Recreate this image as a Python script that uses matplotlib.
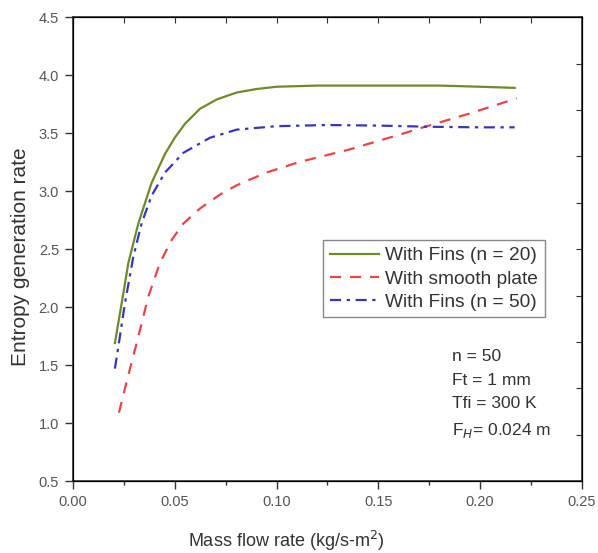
import matplotlib
matplotlib.use('Agg')
import matplotlib.pyplot as plt
from matplotlib.ticker import MultipleLocator

plt.rcParams['font.family'] = ['Liberation Sans', 'DejaVu Sans']

x_fin20 = [0.0206, 0.0239, 0.0272, 0.0321, 0.0386, 0.0452, 0.050, 0.055, 0.0624,
           0.0706, 0.0804, 0.090, 0.100, 0.120, 0.150, 0.180, 0.200, 0.217]
y_fin20 = [1.69, 2.03, 2.38, 2.72, 3.07, 3.32, 3.46, 3.58, 3.71,
           3.79, 3.85, 3.88, 3.90, 3.91, 3.91, 3.91, 3.90, 3.89]

x_plate = [0.0226, 0.027, 0.0313, 0.037, 0.0427, 0.0485, 0.0542, 0.0624, 0.0722,
           0.0804, 0.095, 0.111, 0.136, 0.161, 0.172, 0.195, 0.218]
y_plate = [1.09, 1.40, 1.69, 2.09, 2.38, 2.58, 2.72, 2.85, 2.97,
           3.05, 3.16, 3.25, 3.36, 3.49, 3.55, 3.67, 3.80]

x_fin50 = [0.0206, 0.0223, 0.0255, 0.0296, 0.0337, 0.0386, 0.0452, 0.0542,
           0.0673, 0.0804, 0.100, 0.125, 0.150, 0.175, 0.200, 0.217]
y_fin50 = [1.47, 1.66, 2.03, 2.43, 2.72, 2.96, 3.16, 3.33,
           3.46, 3.53, 3.56, 3.57, 3.565, 3.555, 3.55, 3.55]

fig = plt.figure(figsize=(5.98, 5.53), dpi=100)
ax = fig.add_axes([0.122, 0.130, 0.851, 0.839])

ax.plot(x_fin20, y_fin20, '-', color='#6f8a2a', lw=1.6, label='With Fins (n = 20)')
ax.plot(x_plate, y_plate, '--', color='#e8454a', lw=1.6, dashes=(5, 4), label='With smooth plate')
ax.plot(x_fin50, y_fin50, '-.', color='#3a35c0', lw=1.6, dashes=(5, 2.5, 1.5, 2.5), label='With Fins (n = 50)')

ax.set_xlim(0, 0.25)
ax.set_ylim(0.5, 4.5)
ax.xaxis.set_major_locator(MultipleLocator(0.05))
ax.xaxis.set_minor_locator(MultipleLocator(0.025))
ax.yaxis.set_major_locator(MultipleLocator(0.5))
ax.xaxis.set_major_formatter(plt.FormatStrFormatter('%.2f'))
ax.yaxis.set_major_formatter(plt.FormatStrFormatter('%.1f'))
ax.tick_params(which='both', direction='out', labelsize=10.5, labelcolor='#555555',
               width=1, color='#333333')
ax.tick_params(which='major', length=6, pad=4)
ax.tick_params(which='minor', length=3)
for s in ax.spines.values():
    s.set_linewidth(1.2)
    s.set_color('#333333')

# top and right ticks point inward, right side has its own spacing
tax = ax.twiny()
tax.set_xlim(0, 0.25)
tax.xaxis.set_major_locator(MultipleLocator(0.025))
tax.tick_params(direction='in', length=4, labeltop=False, color='#333333')
rax = ax.twinx()
rax.set_ylim(0, 10)
rax.yaxis.set_major_locator(MultipleLocator(1))
rax.tick_params(direction='in', length=4, labelright=False, color='#333333')

ax.set_xlabel('Mass flow rate (kg/s-m$^2$)', fontsize=13, color='#333333')
ax.xaxis.set_label_coords(0.42, -0.104)
ax.set_ylabel('Entropy generation rate', fontsize=15, color='#333333')
ax.yaxis.set_label_coords(-0.085, 0.483)

leg = ax.legend(loc='upper left', bbox_to_anchor=(0.491, 0.519), fontsize=13.8,
                frameon=True, fancybox=False, edgecolor='#888888', framealpha=1,
                handlelength=2.6, borderpad=0.35, labelspacing=0.3, handletextpad=0.3,
                borderaxespad=0)
leg.get_frame().set_linewidth(1.0)
for t in leg.get_texts():
    t.set_color('#333333')

ax.text(0.745, 0.285, 'n = 50\nFt = 1 mm\nTfi = 300 K\nF$_H$= 0.024 m',
        transform=ax.transAxes, fontsize=12.5, color='#333333', va='top', ha='left',
        linespacing=1.72)

fig.savefig('out.png', dpi=100)
